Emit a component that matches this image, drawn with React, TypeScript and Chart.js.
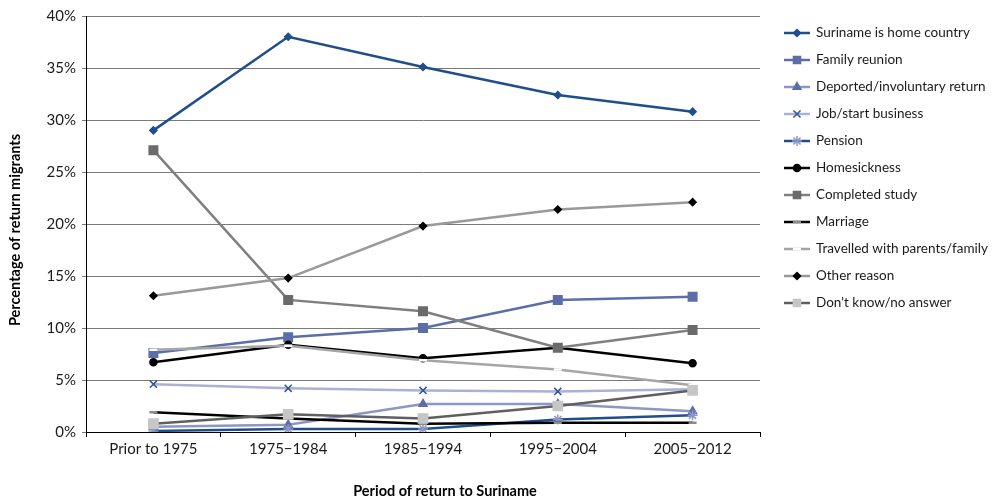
import React, { useEffect, useRef } from "react";
import { Chart, registerables } from "chart.js";
import { drawPoint } from "chart.js/helpers";

Chart.register(...registerables);

const categories = ["Prior to 1975", "1975\u22121984", "1985\u22121994", "1995\u22122004", "2005\u22122012"];
const yTicks = [0, 5, 10, 15, 20, 25, 30, 35, 40];

const suriname = [29.0, 38.0, 35.1, 32.4, 30.8];
const familyReunion = [7.6, 9.1, 10.0, 12.7, 13.0];
const deported = [0.5, 0.7, 2.7, 2.7, 2.0];
const jobBusiness = [4.6, 4.2, 4.0, 3.9, 4.1];
const pension = [0.1, 0.3, 0.3, 1.2, 1.6];
const homesickness = [6.7, 8.4, 7.1, 8.1, 6.6];
const completedStudy = [27.1, 12.7, 11.6, 8.1, 9.8];
const marriage = [1.9, 1.3, 0.8, 0.9, 0.9];
const travelled = [7.9, 8.3, 6.9, 6.0, 4.5];
const otherReason = [13.1, 14.8, 19.8, 21.4, 22.1];
const dontKnow = [0.8, 1.7, 1.3, 2.5, 4.0];

const FONT = "Lato, 'Open Sans', sans-serif";

const series = [
  { label: "Suriname is home country", data: suriname, line: "#1f4e8c", fill: "#1f4e8c", stroke: "#1f4e8c", style: "rectRot", r: 3.5 },
  { label: "Family reunion", data: familyReunion, line: "#5b6ea8", fill: "#5b6ea8", stroke: "#5b6ea8", style: "rect", r: 6 },
  { label: "Deported/involuntary return", data: deported, line: "#8d96c4", fill: "#5b6ea8", stroke: "#5b6ea8", style: "triangle", r: 4.5 },
  { label: "Job/start business", data: jobBusiness, line: "#aab1d5", fill: "#2f5597", stroke: "#2f5597", style: "crossRot", r: 5 },
  { label: "Pension", data: pension, line: "#1f4e8c", fill: "#8d96c4", stroke: "#8d96c4", style: "star", r: 5 },
  { label: "Homesickness", data: homesickness, line: "#000000", fill: "#000000", stroke: "#000000", style: "circle", r: 3.5 },
  { label: "Completed study", data: completedStudy, line: "#7f7f7f", fill: "#6b6b6b", stroke: "#6b6b6b", style: "rect", r: 6 },
  { label: "Marriage", data: marriage, line: "#000000", fill: "#8a8a8a", stroke: "#8a8a8a", style: "line", r: 4 },
  { label: "Travelled with parents/family", data: travelled, line: "#a5a5a5", fill: "#ffffff", stroke: "#ffffff", style: "line", r: 4 },
  { label: "Other reason", data: otherReason, line: "#999999", fill: "#000000", stroke: "#000000", style: "rectRot", r: 3.5 },
  { label: "Don't know/no answer", data: dontKnow, line: "#5f5f5f", fill: "#c6c6c6", stroke: "#c6c6c6", style: "rect", r: 6.5 },
];

const legendPlugin = {
  id: "customLegend",
  afterDraw(chart: any) {
    const ctx = chart.ctx;
    ctx.save();
    chart.data.datasets.forEach((ds: any, i: number) => {
      const y = 33 + i * 27;
      ctx.strokeStyle = ds.borderColor;
      ctx.lineWidth = 2.5;
      ctx.beginPath();
      ctx.moveTo(784, y);
      ctx.lineTo(810, y);
      ctx.stroke();
      ctx.fillStyle = ds.pointBackgroundColor;
      ctx.strokeStyle = ds.pointBorderColor;
      ctx.lineWidth = ds.pointStyle === "line" ? 2.5 : 1.5;
      const r = ds.pointStyle === "rect" ? Math.min(ds.pointRadius, 5) : ds.pointRadius;
      drawPoint(ctx, { pointStyle: ds.pointStyle, rotation: 0, radius: r, borderWidth: ctx.lineWidth }, 797, y);
      ctx.fillStyle = "#1a1a1a";
      ctx.font = "13.5px " + FONT;
      ctx.textAlign = "left";
      ctx.textBaseline = "middle";
      ctx.fillText(ds.label, 816, y);
    });
    ctx.font = "bold 14.5px " + FONT;
    ctx.textAlign = "center";
    ctx.textBaseline = "middle";
    ctx.fillStyle = "#000000";
    ctx.fillText("Period of return to Suriname", 445, 491);
    ctx.translate(15, 230);
    ctx.rotate(-Math.PI / 2);
    ctx.fillText("Percentage of return migrants", 0, 0);
    ctx.restore();
  },
};

export default function App() {
  const ref = useRef<HTMLCanvasElement | null>(null);
  useEffect(() => {
    if (!ref.current) return;
    const chart = new Chart(ref.current, {
      type: "line",
      data: {
        labels: categories,
        datasets: series.map((s, i) => ({
          label: s.label,
          data: s.data,
          order: series.length - i,
          borderColor: s.line,
          backgroundColor: s.line,
          borderWidth: 2.5,
          pointStyle: s.style as any,
          pointRadius: s.r,
          pointHoverRadius: s.r,
          pointBackgroundColor: s.fill,
          pointBorderColor: s.stroke,
          pointBorderWidth: s.style === "line" ? 2.5 : 1.5,
          tension: 0,
        })),
      },
      options: {
        animation: false,
        responsive: true,
        maintainAspectRatio: false,
        layout: { padding: { left: 0, right: 233, top: 16, bottom: 0 } },
        plugins: {
          legend: { display: false },
          tooltip: { enabled: false },
        },
        scales: {
          x: {
            offset: true,
            grid: { drawOnChartArea: false, offset: true, tickLength: 5, color: "#000000", lineWidth: 1 },
            border: { color: "#000000", width: 1 },
            ticks: { color: "#1a1a1a", font: { family: FONT, size: 15 }, padding: 3, maxRotation: 0, autoSkip: false },
            afterFit(scale: any) {
              scale.height = 69;
            },
          },
          y: {
            min: 0,
            max: 40,
            afterBuildTicks(scale: any) {
              scale.ticks = yTicks.map((v) => ({ value: v }));
            },
            grid: { color: "#7a7a7a", lineWidth: 1, tickLength: 4, drawTicks: true },
            border: { color: "#000000", width: 1 },
            ticks: {
              color: "#1a1a1a",
              font: { family: FONT, size: 15 },
              padding: 6,
              callback: (v: any) => v + "%",
            },
            afterFit(scale: any) {
              scale.width = 86;
            },
          },
        },
      },
      plugins: [legendPlugin],
    });
    return () => chart.destroy();
  }, []);
  return (
    <div style={{ position: "fixed", left: 0, top: 0, width: 993, height: 501, background: "#ffffff" }}>
      <canvas ref={ref} />
    </div>
  );
}
